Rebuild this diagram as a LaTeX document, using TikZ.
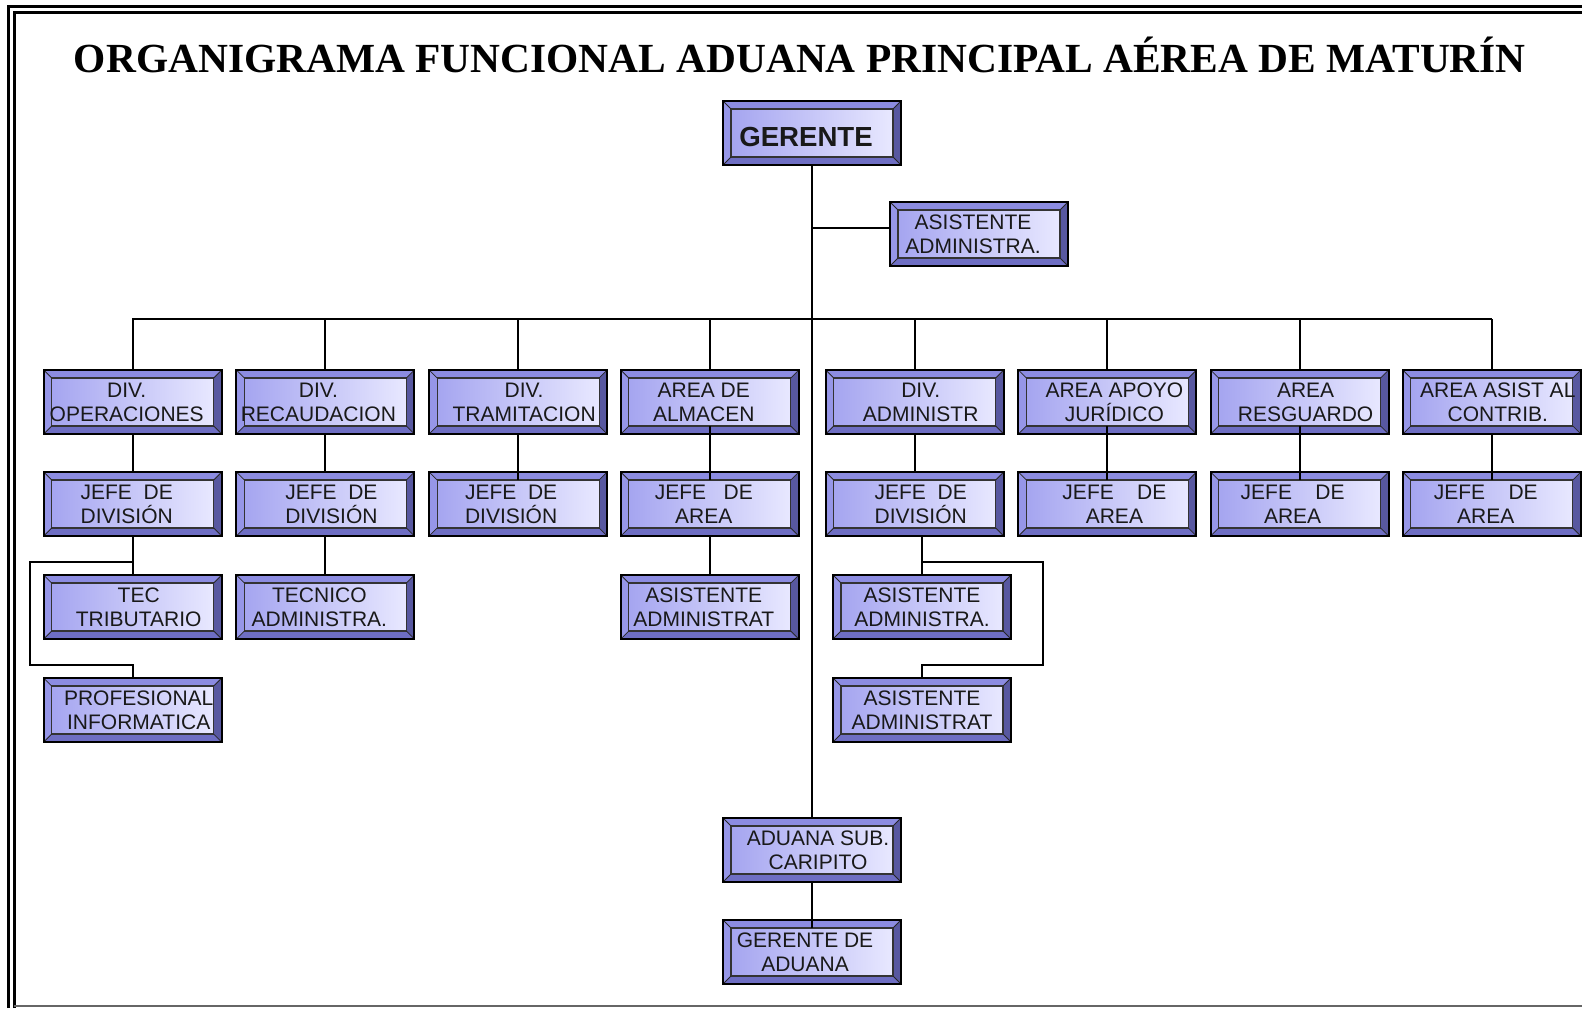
\documentclass[tikz,border=0pt]{standalone}
\usepackage{fontspec}
\setmainfont{Liberation Serif}
\newfontfamily\arialf{Liberation Sans}
\usetikzlibrary{calc}
\definecolor{bvT}{RGB}{140,140,225}
\definecolor{bvL}{RGB}{150,150,232}
\definecolor{bvR}{RGB}{88,88,160}
\definecolor{bvB}{RGB}{110,110,195}
\definecolor{inA}{RGB}{165,165,240}
\definecolor{inB}{RGB}{232,232,255}
\tikzset{
 boxnode/.style={rectangle, minimum width=89pt, minimum height=32pt, inner sep=0pt, outer sep=0pt},
 btxt/.style={font=\arialf\fontsize{10.5}{12}\selectfont, align=center, inner sep=0pt, text=black!90},
 conn/.style={line width=1pt, black},
 outerline/.style={line width=1pt, black},
 innerline/.style={line width=0.6pt, black!80},
 diagline/.style={line width=0.4pt, black!85},
}
\newcommand\obox[4]{%
  \node[boxnode] (#1) at (#2) {};
  \coordinate (#1-a) at ($(#1.north west)+(8,8)$);
  \coordinate (#1-b) at ($(#1.north east)+(-8,8)$);
  \coordinate (#1-c) at ($(#1.south east)+(-8,-8)$);
  \coordinate (#1-d) at ($(#1.south west)+(8,-8)$);
  \fill[bvT] (#1.north west) -- (#1.north east) -- (#1-b) -- (#1-a) -- cycle;
  \fill[bvL] (#1.north west) -- (#1-a) -- (#1-d) -- (#1.south west) -- cycle;
  \fill[bvR] (#1.north east) -- (#1.south east) -- (#1-c) -- (#1-b) -- cycle;
  \fill[bvB] (#1.south west) -- (#1-d) -- (#1-c) -- (#1.south east) -- cycle;
  \shade[left color=inA, right color=inB] (#1-a) rectangle (#1-c);
  \draw[innerline] (#1-a) rectangle (#1-c);
  \draw[diagline] (#1.north west) -- (#1-a) (#1.north east) -- (#1-b) (#1.south east) -- (#1-c) (#1.south west) -- (#1-d);
  \draw[outerline] (#1.north west) rectangle (#1.south east);
  \node[btxt] (#1-t) at ($(#1)+(#3)$) {#4};
}
\begin{document}
\begin{tikzpicture}[x=0.5pt,y=-0.5pt]
\useasboundingbox (0,0) rectangle (1582,1008);
% page frame
\draw[line width=1.25pt] (8.5,1008) -- (8.5,6.5) -- (1582,6.5);
\draw[line width=1.5pt] (14,1008) -- (14,12.5) -- (1582,12.5);
\draw[line width=1pt, black!60] (14,1006) -- (1582,1006);
% title
\node[font=\bfseries\fontsize{20.7}{24}\selectfont, anchor=base, inner sep=0pt] (title) at (800,72) {ORGANIGRAMA FUNCIONAL ADUANA PRINCIPAL AÉREA DE MATURÍN};
% boxes
\obox{g}{812,133}{-6,4}{\bfseries\fontsize{13.8}{16}\selectfont GERENTE}
\obox{as}{979,234}{-6,0}{ASISTENTE\\ADMINISTRA.}
\obox{r1c1}{132.7,402}{-6,0}{DIV.\\OPERACIONES}
\obox{r1c2}{325.4,402}{-7,0}{DIV.\\RECAUDACION}
\obox{r1c3}{518.1,402}{6,0}{DIV.\\TRAMITACION}
\obox{r1c4}{709.8,402}{-6,0}{AREA DE\\ALMACEN}
\obox{r1c5}{914.7,402}{6,0}{DIV.\\ADMINISTR}
\obox{r1c6}{1107.4,402}{7,0}{AREA APOYO\\JURÍDICO}
\obox{r1c7}{1299.6,402}{6,0}{AREA\\RESGUARDO}
\obox{r1c8}{1491.8,402}{6,0}{AREA ASIST AL\\CONTRIB.}
\obox{r2c1}{132.7,504}{-6,0}{JEFE\ \ DE\\DIVISIÓN}
\obox{r2c2}{325.4,504}{6,0}{JEFE\ \ DE\\DIVISIÓN}
\obox{r2c3}{518.1,504}{-7,0}{JEFE\ \ DE\\DIVISIÓN}
\obox{r2c4}{709.8,504}{-6,0}{JEFE\ \ \ DE\\AREA}
\obox{r2c5}{914.7,504}{6,0}{JEFE\ \ DE\\DIVISIÓN}
\obox{r2c6}{1107.4,504}{7,0}{JEFE\ \ \ \ DE\\AREA}
\obox{r2c7}{1299.6,504}{-7,0}{JEFE\ \ \ \ DE\\AREA}
\obox{r2c8}{1491.8,504}{-6,0}{JEFE\ \ \ \ DE\\AREA}
\obox{r3c1}{132.7,607}{6,0}{TEC\\TRIBUTARIO}
\obox{r3c2}{325.4,607}{-6,0}{TECNICO\\ADMINISTRA.}
\obox{r3c4}{709.8,607}{-6,0}{ASISTENTE\\ADMINISTRAT}
\obox{r3c5}{922,607}{0,0}{ASISTENTE\\ADMINISTRA.}
\obox{r4c1}{132.7,710}{6,0}{PROFESIONAL\\INFORMATICA}
\obox{r4c5}{922,710}{0,0}{ASISTENTE\\ADMINISTRAT}
\obox{sub}{812,850}{6,0}{ADUANA SUB.\\CARIPITO}
\obox{gda}{812,952}{-7,0}{GERENTE DE\\ADUANA}
% connectors
\coordinate (busL) at (132,319);
\coordinate (busR) at (1492,319);
\coordinate (ja) at (812,228);
\draw[conn] (g.south) -- (sub.north);
\draw[conn] (ja) -- (ja -| as.west);
\draw[conn] (busL) -- (busR);
\foreach \n in {r1c1,r1c2,r1c3,r1c4,r1c5,r1c6,r1c7,r1c8}{
  \draw[conn] (\n.north) -- (\n.north |- busL);
}
\draw[conn] (r1c1.south) -- (r2c1.north);
\draw[conn] (r1c2.south) -- (r2c2.north);
\draw[conn] (r1c3.south) -- ($(r2c3.north)+(0,8)$);
\draw[conn] ($(r1c4.south)+(0,-8)$) -- ($(r2c4.north)+(0,8)$);
\draw[conn] (r1c5.south) -- (r2c5.north);
\draw[conn] ($(r1c6.south)+(0,-8)$) -- ($(r2c6.north)+(0,8)$);
\draw[conn] ($(r1c7.south)+(0,-8)$) -- ($(r2c7.north)+(0,8)$);
\draw[conn] (r1c8.south) -- ($(r2c8.north)+(0,8)$);
\draw[conn] (r2c2.south) -- (r3c2.north);
\draw[conn] (r2c4.south) -- (r3c4.north);
% column 1 bracket
\coordinate (m1) at (132.7,562);
\coordinate (m2) at (30,562);
\coordinate (m3) at (30,665);
\coordinate (m4) at (132.7,665);
\draw[conn] (r2c1.south) -- (r3c1.north);
\draw[conn] (m1) -- (m2) -- (m3) -- (m4) -- (r4c1.north);
% column 5 bracket
\coordinate (k1) at (922,562);
\coordinate (k2) at (1043,562);
\coordinate (k3) at (1043,665);
\coordinate (k4) at (922,665);
\draw[conn] (r2c5.south -| k1) -- (k1) -- (r3c5.north);
\draw[conn] (k1) -- (k2) -- (k3) -- (k4) -- (r4c5.north);
% lower chain
\draw[conn] (sub.south) -- ($(gda.north)+(0,8)$);
\end{tikzpicture}
\end{document}
